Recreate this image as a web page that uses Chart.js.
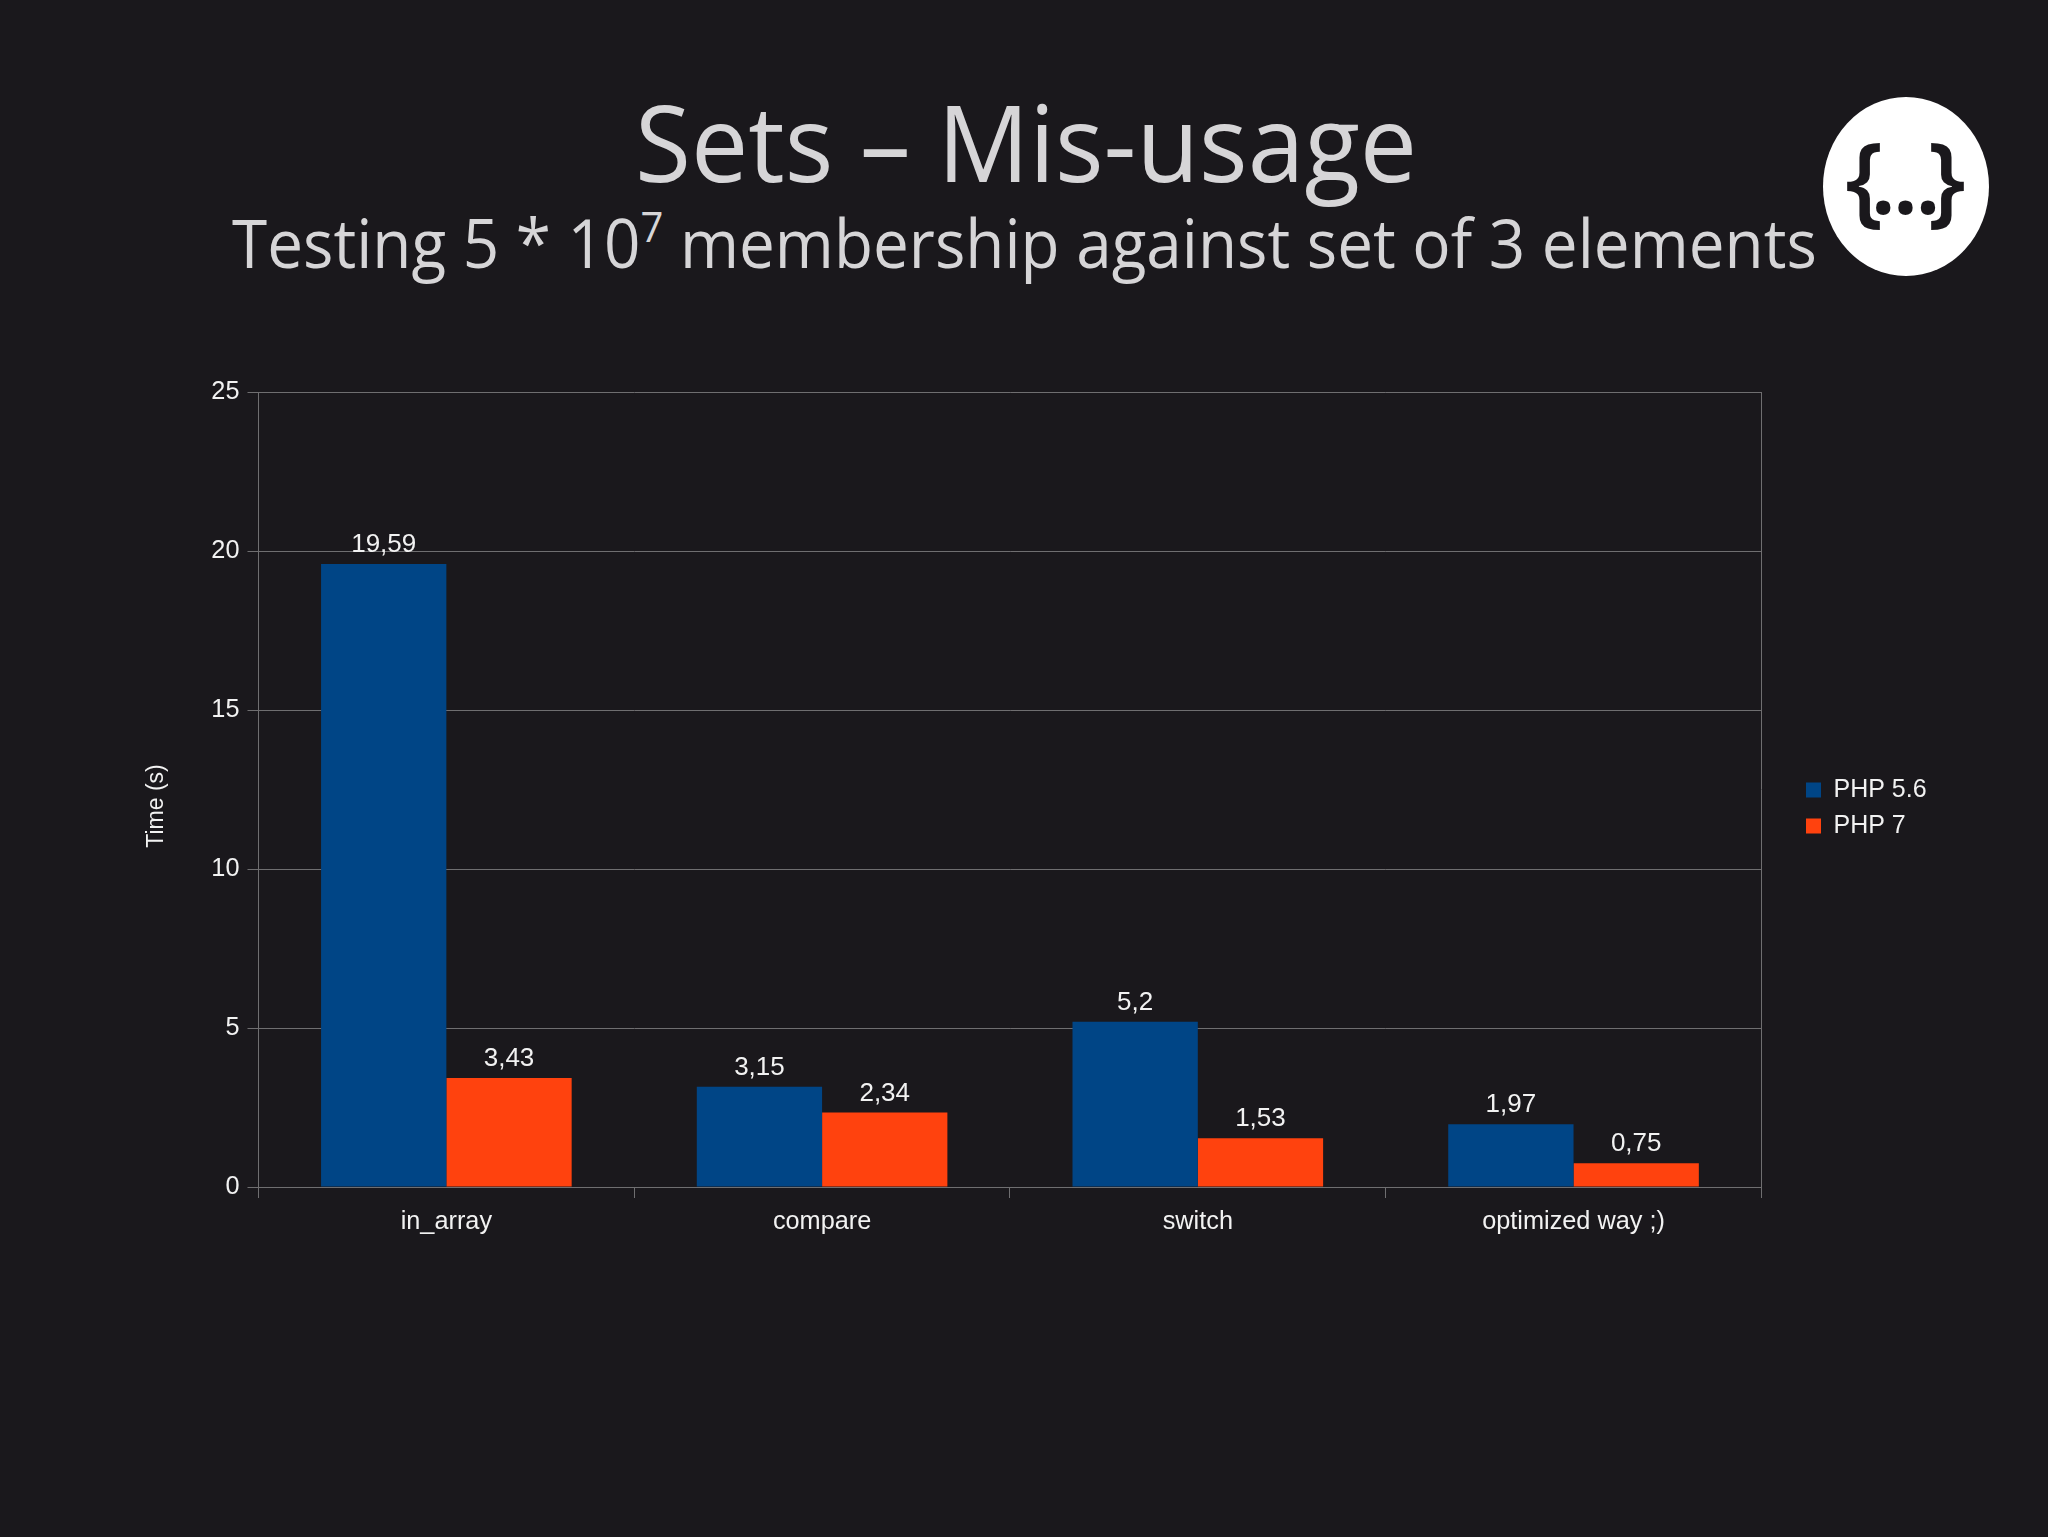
<!DOCTYPE html>
<html>
<head>
<meta charset="utf-8">
<title>Sets - Mis-usage</title>
<script src="https://cdn.jsdelivr.net/npm/chart.js@4"></script>
<style>
  html, body { margin: 0; padding: 0; background: #1a181c; }
  #page { position: relative; width: 2048px; height: 1537px; overflow: hidden; background: #1a181c; }
  #chart { position: absolute; left: 0; top: 0; }
  .head { position: absolute; white-space: nowrap; color: #d6d5d7; font-family: "Open Sans", sans-serif; font-weight: 400; transform-origin: left top; }
  #title { left: 635px; top: 66px; font-size: 106px; line-height: 150px; transform: scaleX(0.963); }
  #subtitle { left: 232px; top: 196px; font-size: 67px; line-height: 92px; transform: scaleX(0.9526); }
  #subtitle sup { font-size: 42px; line-height: 0; vertical-align: 26px; }
  #logo { position: absolute; left: 1823px; top: 97px; width: 166px; height: 179px; border-radius: 50%; background: #fff; color: #1a181c;
          font: 600 100px/156px "Open Sans", sans-serif; text-align: center; letter-spacing: -5px; text-indent: -6px; }
  #logo b { font-weight: 600; margin: 0 -9px; }
</style>
</head>
<body>
<div id="page">
  <div class="head" id="title">Sets – Mis-usage</div>
  <div class="head" id="subtitle">Testing 5 * 10<sup>7</sup> membership against set of 3 elements</div>
  <div id="logo">{<b>...</b>}</div>
  <canvas id="chart" width="2048" height="1537"></canvas>
</div>
<script>
const categories = ['in_array', 'compare', 'switch', 'optimized way ;)'];
const php56 = [19.59, 3.15, 5.2, 1.97];
const php7 = [3.43, 2.34, 1.53, 0.75];
const yTicks = [0, 5, 10, 15, 20, 25];
const yAxisLabel = 'Time (s)';

const TEXT = '#f2f2f2';
const LINE = '#6f6e70';
const FONT = '"Liberation Sans", Arial, sans-serif';

// value labels over the bars, the axis title (sits lower than centre) and the legend offset
const extras = {
    id: 'extras',
    afterLayout(chart) {
        const legend = chart.legend;
        const shift = 1795 - legend.left;
        legend.left += shift;
        legend.right += shift;
        legend.top -= 11.5;
        legend.bottom -= 11.5;
    },
    afterDatasetsDraw(chart) {
        const ctx = chart.ctx;
        ctx.save();
        ctx.fillStyle = TEXT;
        ctx.font = '26px ' + FONT;
        ctx.textAlign = 'center';
        ctx.textBaseline = 'alphabetic';
        chart.data.datasets.forEach((ds, i) => {
            chart.getDatasetMeta(i).data.forEach((bar, j) => {
                ctx.fillText(String(ds.data[j]).replace('.', ','), bar.x, bar.y - 12);
            });
        });
        ctx.translate(157, 806);
        ctx.rotate(-Math.PI / 2);
        ctx.font = '23px ' + FONT;
        ctx.textBaseline = 'middle';
        ctx.fillText(yAxisLabel, 0, 0);
        ctx.restore();
    }
};

new Chart(document.getElementById('chart'), {
    type: 'bar',
    data: {
        labels: categories,
        datasets: [
            { label: 'PHP 5.6', data: php56, backgroundColor: '#004586' },
            { label: 'PHP 7', data: php7, backgroundColor: '#ff420e' }
        ]
    },
    options: {
        responsive: false,
        animation: false,
        devicePixelRatio: 1,
        categoryPercentage: 0.667,
        barPercentage: 1,
        layout: { padding: { top: 392, left: 0, bottom: 290, right: 145 } },
        scales: {
            x: {
                afterFit: s => { s.height = 60; },
                grid: {
                    offset: true,
                    color: c => (c.index === 0 || c.index === undefined || c.index === categories.length) ? LINE : 'transparent',
                    tickColor: LINE,
                    tickLength: 11,
                    lineWidth: 1
                },
                border: { color: LINE },
                ticks: { color: TEXT, font: { family: FONT, size: 25.3 }, padding: 9, maxRotation: 0 }
            },
            y: {
                min: 0,
                max: 25,
                afterFit: s => { s.width = 258.5; },
                afterBuildTicks: s => { s.ticks = yTicks.map(v => ({ value: v })); },
                grid: { color: LINE, tickColor: LINE, tickLength: 11 },
                border: { color: LINE },
                ticks: { color: TEXT, font: { family: FONT, size: 25.3 }, padding: 8 }
            }
        },
        plugins: {
            title: { display: false },
            tooltip: { enabled: false },
            legend: {
                position: 'right',
                labels: { color: TEXT, font: { family: FONT, size: 25 }, boxWidth: 15, boxHeight: 15, padding: 11 }
            }
        }
    },
    plugins: [extras]
});
</script>
</body>
</html>
